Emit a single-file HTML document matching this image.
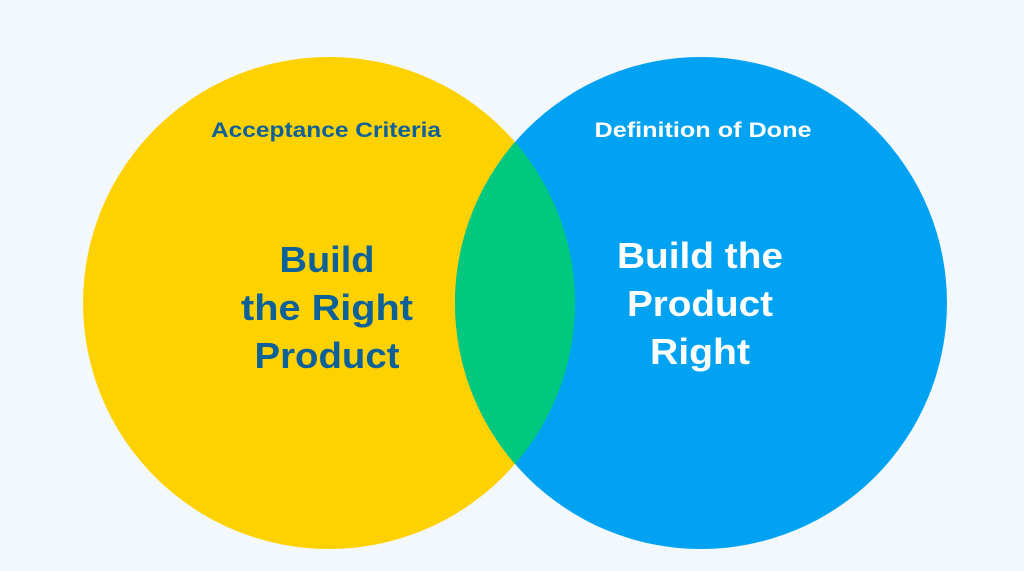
<!DOCTYPE html>
<html><head><style>
html,body{margin:0;padding:0;background:#f2f8fc;}
svg{display:block}
text{font-family:"Liberation Sans",sans-serif;font-weight:bold;}
</style></head><body>
<svg width="1024" height="571" viewBox="0 0 1024 571">
<rect width="1024" height="571" fill="#f2f8fc"/>
<defs><clipPath id="c"><circle cx="329" cy="303" r="246"/></clipPath></defs>
<circle cx="329" cy="303" r="246" fill="#fed200"/>
<circle cx="701" cy="303" r="246" fill="#00a2f1"/>
<circle cx="701" cy="303" r="246" fill="#00c97f" clip-path="url(#c)"/>
<g fill="#0e6198" text-anchor="middle">
<text x="326" y="137" font-size="21" textLength="230" lengthAdjust="spacingAndGlyphs">Acceptance Criteria</text>
<text x="327" y="272" font-size="36" textLength="95" lengthAdjust="spacingAndGlyphs">Build</text>
<text x="327" y="320" font-size="36" textLength="172" lengthAdjust="spacingAndGlyphs">the Right</text>
<text x="327" y="368" font-size="36" textLength="145" lengthAdjust="spacingAndGlyphs">Product</text>
</g>
<g fill="#ffffff" text-anchor="middle">
<text x="703" y="137" font-size="21" textLength="217" lengthAdjust="spacingAndGlyphs">Definition of Done</text>
<text x="700" y="268" font-size="36" textLength="166" lengthAdjust="spacingAndGlyphs">Build the</text>
<text x="700" y="316" font-size="36" textLength="146" lengthAdjust="spacingAndGlyphs">Product</text>
<text x="700" y="364" font-size="36" textLength="100" lengthAdjust="spacingAndGlyphs">Right</text>
</g>
</svg>
</body></html>
